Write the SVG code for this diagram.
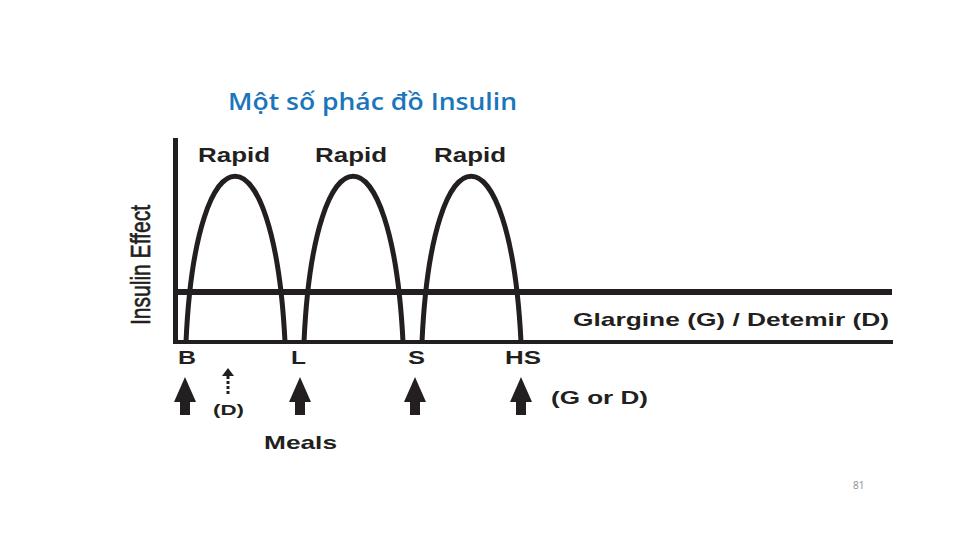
<svg xmlns="http://www.w3.org/2000/svg" width="960" height="540" viewBox="0 0 960 540">
<style>
.lbl{font-family:"Liberation Sans",Arial,sans-serif;font-weight:bold;fill:#231f20}
.arch{fill:none;stroke:#231f20;stroke-width:5}
.axis{stroke:#231f20;fill:none}
.arr{fill:#231f20}
</style>
<rect width="960" height="540" fill="#ffffff"/>
<text x="228" y="110" font-family="'Open Sans','Noto Sans',sans-serif" font-size="24" font-weight="600" fill="#1b75bb" textLength="289" lengthAdjust="spacingAndGlyphs">Một số phác đồ Insulin</text>
<g id="axes">
<line class="axis" x1="175.5" y1="138" x2="175.5" y2="344" stroke-width="5"/>
<line class="axis" x1="173" y1="342" x2="893" y2="342" stroke-width="4"/>
</g>
<g id="basal">
<line class="axis" x1="176" y1="292" x2="892" y2="292" stroke-width="6"/>
<text class="lbl" x="573" y="326" font-size="19" textLength="316" lengthAdjust="spacingAndGlyphs">Glargine (G) / Detemir (D)</text>
</g>
<g id="rapid1">
<path class="arch" d="M186,342 C196,121 274,121 285,342"/>
<text class="lbl" x="198" y="162" font-size="20" textLength="72" lengthAdjust="spacingAndGlyphs">Rapid</text>
</g>
<g id="rapid2">
<path class="arch" d="M304,342 C314,121 392,121 403,342"/>
<text class="lbl" x="315" y="162" font-size="20" textLength="72" lengthAdjust="spacingAndGlyphs">Rapid</text>
</g>
<g id="rapid3">
<path class="arch" d="M422,342 C432,121 510,121 521,342"/>
<text class="lbl" x="434" y="162" font-size="20" textLength="72" lengthAdjust="spacingAndGlyphs">Rapid</text>
</g>
<text font-family="'Liberation Sans',Arial,sans-serif" fill="#231f20" font-size="28" transform="translate(150,325) rotate(-90)" textLength="120" lengthAdjust="spacingAndGlyphs" stroke="#231f20" stroke-width="0.6">Insulin Effect</text>
<g id="times">
<text class="lbl" x="178" y="364" font-size="18" textLength="18" lengthAdjust="spacingAndGlyphs">B</text>
<text class="lbl" x="291" y="364" font-size="18" textLength="15" lengthAdjust="spacingAndGlyphs">L</text>
<text class="lbl" x="408" y="364" font-size="18" textLength="17" lengthAdjust="spacingAndGlyphs">S</text>
<text class="lbl" x="505" y="364" font-size="18" textLength="36" lengthAdjust="spacingAndGlyphs">HS</text>
</g>
<g id="arrows">
<path class="arr" d="M185,377 L196,402 L190,402 L190,415 L180,415 L180,402 L174,402 Z"/>
<path class="arr" d="M300,377 L311,402 L305,402 L305,415 L295,415 L295,402 L289,402 Z"/>
<path class="arr" d="M415,377 L426,402 L420,402 L420,415 L410,415 L410,402 L404,402 Z"/>
<path class="arr" d="M521,377 L532,402 L526,402 L526,415 L516,415 L516,402 L510,402 Z"/>
<path class="arr" d="M228,368 L234,376 L222,376 Z"/>
<line x1="228" y1="376" x2="228" y2="396" stroke="#231f20" stroke-width="3" stroke-dasharray="3,2"/>
</g>
<text class="lbl" x="213" y="415" font-size="15" textLength="31" lengthAdjust="spacingAndGlyphs">(D)</text>
<text class="lbl" x="551" y="404" font-size="18" textLength="97" lengthAdjust="spacingAndGlyphs">(G or D)</text>
<text class="lbl" x="264" y="449" font-size="19" textLength="73" lengthAdjust="spacingAndGlyphs">Meals</text>
<text x="853" y="489" font-family="'Open Sans','Liberation Sans',sans-serif" font-size="10" fill="#8c8c8c">81</text>
</svg>
